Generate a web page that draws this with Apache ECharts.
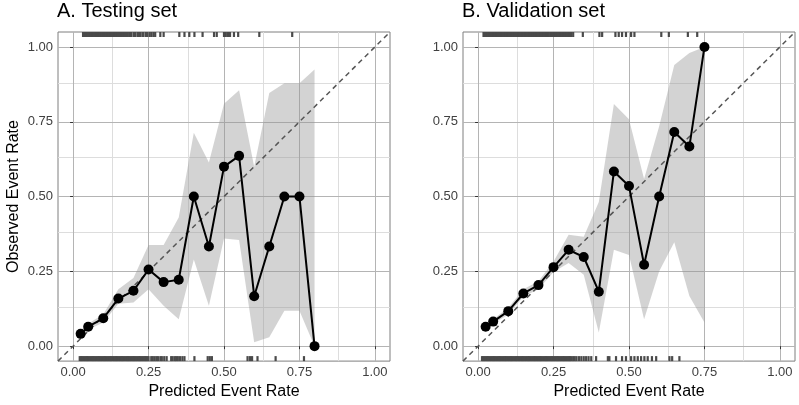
<!DOCTYPE html>
<html><head><meta charset="utf-8">
<script src="https://cdn.jsdelivr.net/npm/echarts@6/dist/echarts.min.js"></script>
<style>html,body{margin:0;padding:0;background:#fff}#c{width:799px;height:405px}</style>
</head><body><div id="c"></div>
<script>
// ---- tick labels ----
const tickValues = [0, 0.25, 0.5, 0.75, 1];
const minorValues = [0.125, 0.375, 0.625, 0.875];

// ---- A. Testing set ----
const testX     = [0.025, 0.05, 0.1, 0.15, 0.2, 0.25, 0.3, 0.35, 0.4, 0.45, 0.5, 0.55, 0.6, 0.65, 0.7, 0.75, 0.8];
const testObs   = [0.041, 0.065, 0.093, 0.159, 0.185, 0.256, 0.214, 0.222, 0.5, 0.333, 0.6, 0.636, 0.167, 0.333, 0.5, 0.5, 0];
const testLower = [0.03, 0.055, 0.079, 0.142, 0.146, 0.19, 0.135, 0.09, 0.29, 0.135, 0.36, 0.355, 0.013, 0.03, 0.118, 0.118, 0];
const testUpper = [0.052, 0.075, 0.107, 0.19, 0.228, 0.338, 0.338, 0.43, 0.713, 0.614, 0.81, 0.855, 0.6, 0.846, 0.879, 0.879, 0.925];
const testRugTop = [0.033,0.037,0.041,0.045,0.049,0.053,0.057,0.061,0.065,0.069,0.073,0.077,0.081,0.085,0.089,0.093,0.097,0.101,0.105,0.109,0.113,0.117,0.121,0.125,0.129,0.133,0.137,0.141,0.145,0.149,0.153,0.157,0.161,0.165,
  0.170,0.175,0.181,0.186,0.192,0.200,0.205,0.213,0.218,0.224,0.232,0.240,0.245,0.253,0.259,0.266,0.272,
  0.289,0.300,0.352,0.369,0.385,0.402,0.429,0.467,0.476,0.500,0.506,0.513,0.520,0.533,0.547,0.617,0.726];
const testRugBottom = [0.022,0.026,0.030,0.034,0.038,0.042,0.046,0.050,0.054,0.058,0.062,0.066,0.070,0.074,0.078,0.082,0.086,0.090,0.094,0.098,0.102,0.106,0.110,0.114,0.118,0.122,0.126,0.130,0.134,0.138,0.142,0.146,0.150,0.154,0.158,0.162,0.166,0.170,0.174,0.178,0.182,0.186,0.190,0.194,0.198,0.202,0.206,0.210,0.214,0.218,0.222,0.226,0.230,0.234,0.238,0.242,0.246,0.250,
  0.259,0.264,0.270,0.276,0.281,0.289,0.294,0.302,0.310,0.325,0.330,0.337,0.342,0.347,0.354,0.362,0.369,
  0.402,0.446,0.453,0.460,0.578,0.586,0.593,0.611,0.671,0.765];

// ---- B. Validation set ----
const valX     = [0.025, 0.05, 0.1, 0.15, 0.2, 0.25, 0.3, 0.35, 0.4, 0.45, 0.5, 0.55, 0.6, 0.65, 0.7, 0.75];
const valObs   = [0.065, 0.082, 0.117, 0.176, 0.204, 0.264, 0.322, 0.298, 0.182, 0.584, 0.535, 0.272, 0.5, 0.716, 0.667, 1.0];
const valLower = [0.058, 0.074, 0.106, 0.165, 0.19, 0.248, 0.278, 0.239, 0.046, 0.322, 0.305, 0.09, 0.25, 0.347, 0.168, 0.079];
const valUpper = [0.072, 0.09, 0.128, 0.19, 0.217, 0.283, 0.372, 0.366, 0.482, 0.809, 0.758, 0.559, 0.735, 0.94, 0.98, 1.0];
const valRugTop = [0.018,0.022,0.026,0.030,0.034,0.038,0.042,0.046,0.050,0.054,0.058,0.062,0.066,0.070,0.074,0.078,0.082,0.086,0.090,0.094,0.098,0.102,0.106,0.110,0.114,0.118,0.122,0.126,0.130,0.134,0.138,0.142,0.146,0.150,0.154,0.158,0.162,0.166,0.170,0.174,0.178,0.182,0.186,0.190,0.194,0.198,0.202,0.206,0.210,0.214,0.218,0.222,0.226,0.230,0.234,0.239,
  0.243,0.248,0.253,0.258,0.263,0.268,0.273,0.278,0.283,0.288,0.293,0.298,0.303,0.308,0.315,
  0.347,0.402,0.411,0.455,0.466,0.477,0.490,0.507,0.518,0.607,0.632,0.695,0.726];
const valRugBottom = [0.013,0.017,0.021,0.025,0.029,0.033,0.037,0.041,0.045,0.049,0.053,0.057,0.061,0.065,0.069,0.073,0.077,0.081,0.085,0.089,0.093,0.097,0.101,0.105,0.109,0.113,0.117,0.121,0.125,0.129,0.133,0.137,0.141,0.145,0.149,0.153,0.157,0.161,0.165,0.169,0.173,0.177,0.181,0.185,0.189,0.193,0.197,0.201,0.205,0.209,0.213,0.217,0.221,0.225,0.229,0.233,0.237,0.241,0.245,0.249,0.253,0.257,0.261,0.265,0.269,0.273,0.277,0.281,0.285,0.289,0.293,0.297,0.301,0.305,0.309,0.315,
  0.320,0.326,0.334,0.342,0.350,0.358,0.366,0.375,0.391,0.430,0.435,0.457,0.477,0.490,0.507,0.518,0.529,0.540,0.551,0.562,0.576,0.590,0.634,0.643,0.667];

const FONT = '"Liberation Sans", Arial, Helvetica, sans-serif';
const AX_MIN = -0.05, AX_MAX = 1.05;

const grids = [
  {left: 58, top: 32, width: 332, height: 331, show: true, borderColor: '#7f7f7f', borderWidth: 1, backgroundColor: '#fff'},
  {left: 463, top: 32, width: 332, height: 331, show: true, borderColor: '#7f7f7f', borderWidth: 1, backgroundColor: '#fff'}
];

function axisCommon(i) {
  return {
    gridIndex: i, type: 'value', min: AX_MIN, max: AX_MAX,
    axisLine: {show: false},
    axisTick: {show: true, customValues: tickValues, length: 3, lineStyle: {color: '#333', width: 1}},
    axisLabel: {customValues: tickValues, formatter: v => v.toFixed(2), color: '#404040', fontSize: 13, fontFamily: FONT, margin: 5},
    splitLine: {show: false}
  };
}

const xAxes = [0, 1].map(i => Object.assign(axisCommon(i), {
  name: 'Predicted Event Rate', nameLocation: 'middle', nameGap: 22,
  nameTextStyle: {fontSize: 16, color: '#000', fontFamily: FONT}
}));
const yAxes = [0, 1].map(i => Object.assign(axisCommon(i), i === 0 ? {
  name: 'Observed Event Rate', nameLocation: 'middle', nameGap: 36,
  nameTextStyle: {fontSize: 16, color: '#000', fontFamily: FONT}
} : {}));

function gridLineData() {
  const d = [];
  minorValues.forEach(v => { d.push({xAxis: v, lineStyle: {color: '#dddddd', width: 1, type: 'solid'}}); d.push({yAxis: v, lineStyle: {color: '#dddddd', width: 1, type: 'solid'}}); });
  tickValues.forEach(v => { d.push({xAxis: v, lineStyle: {color: '#b4b4b4', width: 1, type: 'solid'}}); d.push({yAxis: v, lineStyle: {color: '#b4b4b4', width: 1, type: 'solid'}}); });
  return d;
}

function rugSeries(i, values, atTop) {
  return {
    type: 'custom', xAxisIndex: i, yAxisIndex: i, z: 4, silent: true,
    data: values.map(v => [v, atTop ? AX_MAX : AX_MIN]),
    renderItem: function (params, api) {
      const p = api.coord([api.value(0), api.value(1)]);
      return {
        type: 'rect',
        shape: {x: p[0] - 1.1, y: atTop ? p[1] : p[1] - 5, width: 2.2, height: 5},
        style: {fill: '#4a4a4a'}
      };
    }
  };
}

function panelSeries(i, xs, obs, lo, hi, rugTop, rugBottom) {
  return [
    {
      type: 'line', xAxisIndex: i, yAxisIndex: i, z: 0, silent: true,
      data: [[AX_MIN, AX_MIN]], showSymbol: false, lineStyle: {opacity: 0},
      markLine: {z: 0, silent: true, symbol: ['none', 'none'], label: {show: false}, animation: false, data: gridLineData()}
    },
    {
      type: 'custom', xAxisIndex: i, yAxisIndex: i, z: 1, silent: true,
      data: [[xs[0], lo[0]]],
      renderItem: function (params, api) {
        const pts = [];
        for (let k = 0; k < xs.length; k++) pts.push(api.coord([xs[k], hi[k]]));
        for (let k = xs.length - 1; k >= 0; k--) pts.push(api.coord([xs[k], lo[k]]));
        return {type: 'polygon', shape: {points: pts}, style: {fill: 'rgba(150,150,150,0.42)'}};
      }
    },
    {
      type: 'line', xAxisIndex: i, yAxisIndex: i, z: 2, silent: true,
      data: [[AX_MIN, AX_MIN], [AX_MAX, AX_MAX]], showSymbol: false,
      lineStyle: {color: '#555', width: 1.5, type: [5, 4]}
    },
    {
      type: 'line', xAxisIndex: i, yAxisIndex: i, z: 3,
      data: xs.map((v, k) => [v, obs[k]]),
      symbol: 'circle', symbolSize: 10, showSymbol: true,
      itemStyle: {color: '#000'}, lineStyle: {color: '#000', width: 2}
    },
    rugSeries(i, rugTop, true),
    rugSeries(i, rugBottom, false)
  ];
}

const chart = echarts.init(document.getElementById('c'), null, {renderer: 'canvas'});
chart.setOption({
  animation: false,
  backgroundColor: '#fff',
  textStyle: {fontFamily: FONT},
  title: [
    {text: 'A. Testing set', left: 57, top: 1, padding: 0, textStyle: {fontSize: 20, fontWeight: 'normal', color: '#000', fontFamily: FONT}},
    {text: 'B. Validation set', left: 462, top: 1, padding: 0, textStyle: {fontSize: 20, fontWeight: 'normal', color: '#000', fontFamily: FONT}}
  ],
  grid: grids,
  xAxis: xAxes,
  yAxis: yAxes,
  series: [].concat(
    panelSeries(0, testX, testObs, testLower, testUpper, testRugTop, testRugBottom),
    panelSeries(1, valX, valObs, valLower, valUpper, valRugTop, valRugBottom)
  )
});
</script>
</body></html>
